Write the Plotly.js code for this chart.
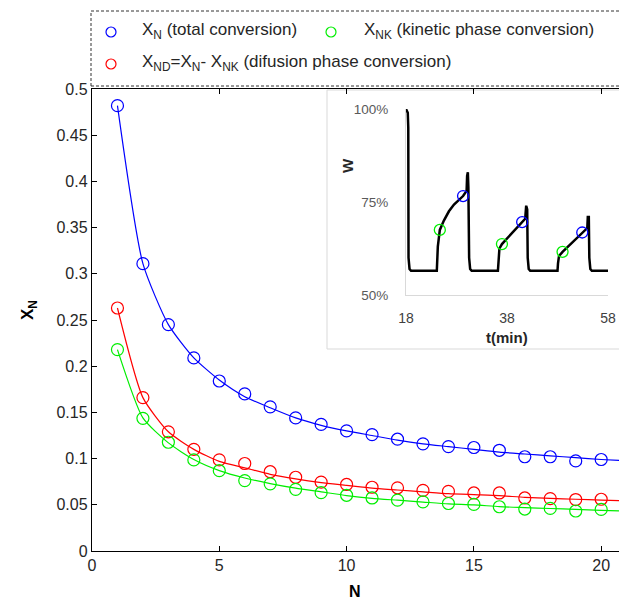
<!DOCTYPE html>
<html>
<head>
<meta charset="utf-8">
<script src="https://cdn.plot.ly/plotly-3.0.1.min.js"></script>
<style>html,body{margin:0;padding:0;background:#fff;}#chart{width:619px;height:600px;}</style>
</head>
<body>
<div id="chart"></div>
<script>
// ---- main chart data ----
var N = [1,2,3,4,5,6,7,8,9,10,11,12,13,14,15,16,17,18,19,20];
var XN  = [0.482,0.311,0.245,0.209,0.184,0.170,0.156,0.144,0.137,0.130,0.126,0.121,0.116,0.113,0.112,0.109,0.102,0.102,0.0975,0.099];
var XND = [0.263,0.166,0.129,0.110,0.0986,0.0947,0.0858,0.0798,0.0745,0.072,0.069,0.0684,0.0656,0.0645,0.0628,0.0628,0.0574,0.0567,0.0557,0.056];
var XNK = [0.218,0.1436,0.1177,0.0986,0.0869,0.0762,0.0727,0.0667,0.0631,0.0603,0.0574,0.055,0.0532,0.0514,0.0504,0.0479,0.0454,0.0461,0.0433,0.045];
// fitted curves
var fitN   = [1,2,3,4,5,6,7,8,9,10,11,12,13,14,15,16,17,18,19,20,20.7];
var fitXN  = [0.482,0.311,0.245,0.209,0.185,0.167,0.155,0.144,0.136,0.130,0.125,0.120,0.116,0.113,0.110,0.107,0.105,0.103,0.101,0.099,0.098];
var fitXND = [0.263,0.166,0.129,0.110,0.097,0.090,0.083,0.078,0.074,0.071,0.068,0.066,0.064,0.062,0.061,0.060,0.058,0.057,0.056,0.055,0.0545];
var fitXNK = [0.218,0.144,0.117,0.099,0.087,0.079,0.073,0.068,0.064,0.060,0.057,0.055,0.053,0.051,0.050,0.048,0.047,0.046,0.045,0.044,0.0435];
var yTicks = [0,0.05,0.1,0.15,0.2,0.25,0.3,0.35,0.4,0.45,0.5];
var yTickText = ['0','0.05','0.1','0.15','0.2','0.25','0.3','0.35','0.4','0.45','0.5'];
var xTicks = [0,5,10,15,20];

// ---- inset data ----
var tMin = [18,18.35,18.45,18.5,18.7,19,24.1,24.2,24.3,24.7,25.5,26.5,27.5,29.3,30.0,30.1,30.25,30.35,30.5,30.7,31,36.2,36.3,36.5,37.0,38.5,41.0,41.6,41.8,42.0,42.1,42.3,42.6,48.0,48.1,48.3,49.0,50.5,52.9,53.9,54.0,54.2,54.3,54.5,54.8,58];
var W    = [100,99,95,60,57,56.5,56.5,60,63,67.5,70,72.5,74.3,76.6,78,82,83,79,60,57,56.5,56.5,60,62.5,63.7,66,69.6,70.5,74,73,60,57,56.5,56.5,58.5,60.5,61.6,63.5,66.8,68,71,71,60,57,56.5,56.5];
var tKin = [24.7,37.0,49.0];
var WKin = [67.5,63.7,61.6];
var tTot = [29.3,41.0,52.9];
var WTot = [76.6,69.6,66.8];

var BLUE='#0000ff', RED='#ff0000', GREEN='#00ee00';
var FONT='Liberation Sans, Arial, sans-serif';

function fit(y,c){return {x:fitN,y:y,mode:'lines',line:{color:c,width:1.2,shape:'spline',smoothing:0.6},hoverinfo:'skip',showlegend:false};}
function pts(y,c){return {x:N,y:y,mode:'markers',marker:{symbol:'circle-open',size:12,color:c,line:{width:1.2,color:c}},showlegend:false};}

var traces = [
  fit(fitXN,BLUE), fit(fitXND,RED), fit(fitXNK,GREEN),
  pts(XN,BLUE), pts(XND,RED), pts(XNK,GREEN),
  {x:tMin,y:W,xaxis:'x2',yaxis:'y2',mode:'lines',line:{color:'#000',width:2.5},showlegend:false},
  {x:tKin,y:WKin,xaxis:'x2',yaxis:'y2',mode:'markers',marker:{symbol:'circle-open',size:11,color:GREEN,line:{width:1.3,color:GREEN}},showlegend:false},
  {x:tTot,y:WTot,xaxis:'x2',yaxis:'y2',mode:'markers',marker:{symbol:'circle-open',size:11,color:BLUE,line:{width:1.3,color:BLUE}},showlegend:false}
];

var L=92, R=0, T=89, B=49, PW=619-L-R, PH=600-T-B;
function px(x){return (x-L)/PW;}
function py(y){return (600-B-y)/PH;}

function circ(xp,yp,c){return {type:'circle',xref:'paper',yref:'paper',xsizemode:'pixel',ysizemode:'pixel',xanchor:px(xp),yanchor:py(yp),x0:-5,x1:5,y0:-5,y1:5,line:{color:c,width:1.2}};}

var layout = {
  width:619, height:600,
  margin:{l:L,r:R,t:T,b:B,pad:0},
  paper_bgcolor:'#fff', plot_bgcolor:'#fff',
  font:{family:FONT,color:'#262626',size:16},
  showlegend:false,
  xaxis:{range:[0,20.7],tickvals:xTicks,ticktext:xTicks.map(String),ticks:'inside',ticklen:5,tickcolor:'#000',
         showline:true,linecolor:'#000',linewidth:1.2,mirror:'ticks',showgrid:false,zeroline:false,
         tickfont:{size:16,color:'#262626'}},
  yaxis:{range:[0,0.5],tickvals:yTicks,ticktext:yTickText,ticks:'inside',ticklen:5,tickcolor:'#000',
         showline:true,linecolor:'#000',linewidth:1.2,showgrid:false,zeroline:false,
         tickfont:{size:16,color:'#262626'}},
  xaxis2:{domain:[px(406),px(608)],anchor:'y2',range:[18,58],tickvals:[18,38,58],ticktext:['18','38','58'],
          showline:true,linecolor:'#d9d9d9',linewidth:1,ticks:'',showgrid:false,zeroline:false,
          tickfont:{size:14,color:'#404040'},ticklabelstandoff:10},
  yaxis2:{domain:[py(295),py(109)],anchor:'x2',range:[50,100],tickvals:[50,75,100],ticktext:['50%','75%','100%'],
          showline:true,linecolor:'#d9d9d9',linewidth:1,ticks:'',showgrid:false,zeroline:false,
          tickfont:{size:13.5,color:'#595959'},ticklabelstandoff:14},
  shapes:[
    {type:'rect',xref:'paper',yref:'paper',x0:px(91),x1:px(640),y0:py(86),y1:py(11),line:{color:'#333',width:1,dash:'3px,2px'},fillcolor:'rgba(0,0,0,0)'},
    {type:'rect',xref:'paper',yref:'paper',x0:px(327),x1:px(640),y0:py(349),y1:py(90),line:{color:'#d9d9d9',width:1},fillcolor:'#fff',layer:'below'},
    circ(111,32,BLUE), circ(331,32,GREEN), circ(111,64,RED)
  ],
  annotations:[
    {xref:'paper',yref:'paper',x:px(140),y:py(31),xanchor:'left',yanchor:'middle',showarrow:false,text:'X<sub>N</sub> (total conversion)',font:{size:17,color:'#262626'}},
    {xref:'paper',yref:'paper',x:px(362),y:py(31),xanchor:'left',yanchor:'middle',showarrow:false,text:'X<sub>NK</sub> (kinetic phase conversion)',font:{size:17,color:'#262626'}},
    {xref:'paper',yref:'paper',x:px(140),y:py(63),xanchor:'left',yanchor:'middle',showarrow:false,text:'X<sub>ND</sub>=X<sub>N</sub>- X<sub>NK</sub> (difusion phase conversion)',font:{size:17,color:'#262626'}},
    {xref:'paper',yref:'paper',x:px(355),y:py(591),xanchor:'center',yanchor:'middle',showarrow:false,text:'<b>N</b>',font:{size:16,color:'#000'}},
    {xref:'paper',yref:'paper',x:px(29),y:py(310),xanchor:'center',yanchor:'middle',showarrow:false,textangle:-90,text:'<b>X<sub>N</sub></b>',font:{size:17,color:'#000'}},
    {xref:'paper',yref:'paper',x:px(507),y:py(337),xanchor:'center',yanchor:'middle',showarrow:false,text:'<b>t(min)</b>',font:{size:15,color:'#262626'}},
    {xref:'paper',yref:'paper',x:px(347),y:py(166),xanchor:'center',yanchor:'middle',showarrow:false,textangle:-90,text:'<b>W</b>',font:{size:15,color:'#262626'}}
  ]
};

Plotly.newPlot('chart',traces,layout,{displayModeBar:false,staticPlot:true});
</script>
</body>
</html>
